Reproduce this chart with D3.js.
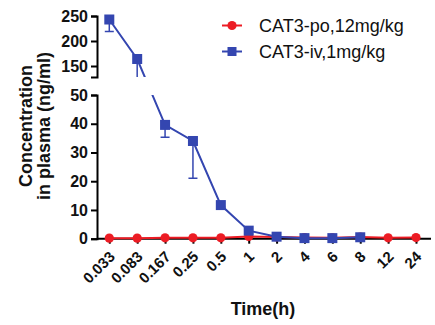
<!DOCTYPE html>
<html>
<head>
<meta charset="utf-8">
<script src="https://cdn.jsdelivr.net/npm/d3@7"></script>
<style>
  html, body { margin: 0; padding: 0; background: #fff; }
  svg { display: block; }
  text { font-family: "Liberation Sans", Arial, Helvetica, sans-serif; }
</style>
</head>
<body>
<div id="chart"></div>
<script>
// ---- data ----
const categories = ["0.033", "0.083", "0.167", "0.25", "0.5", "1", "2", "4", "6", "8", "12", "24"];
const poValues = [0.2, 0.2, 0.3, 0.3, 0.3, 0.8, 0.6, 0.4, 0.3, 0.6, 0.3, 0.4];
const ivValues = [243, 164, 39.6, 34.0, 11.7, 2.8, 0.7, 0.2, 0.2, 0.5, null, null];
const ivErrLow = [219, 120, 35.3, 21.0, 11.0, 2.3, 0.5, 0.1, 0.1, 0.3, null, null];
const yTopTicks = [150, 200, 250];
const yBottomTicks = [0, 10, 20, 30, 40, 50];
const seriesNames = ["CAT3-po,12mg/kg", "CAT3-iv,1mg/kg"];
const xTitle = "Time(h)";
const yTitleLines = ["Concentration", "in plasma (ng/ml)"];

// ---- layout ----
const W = 435, H = 325;
const red = "#ec1c24", blue = "#3446b0";
const axisX = 97, axisEnd = 431;
const topSeg = [77, 16], botSeg = [238.7, 95];

const svg = d3.select("#chart").append("svg").attr("width", W).attr("height", H);

const x = d3.scalePoint().domain(categories).range([109.3, 416]);
const yTop = d3.scaleLinear().domain([128, 250]).range(topSeg);
const yBot = d3.scaleLinear().domain([0, 50]).range(botSeg);
const yAny = v => v > 50 ? yTop(v) : yBot(v);

// clip for broken axis
const defs = svg.append("defs");
const cp = defs.append("clipPath").attr("id", "brk");
cp.append("rect").attr("x", 0).attr("y", 0).attr("width", W).attr("height", topSeg[0]);
cp.append("rect").attr("x", 0).attr("y", botSeg[1]).attr("width", W).attr("height", H - botSeg[1]);

// ---- axes ----
function styleAxis(g) {
  g.selectAll("path, line").attr("stroke", "#000").attr("stroke-width", 2);
  g.selectAll("text").attr("font-size", 16).attr("font-weight", "bold").attr("fill", "#111")
    .attr("font-family", "'Liberation Sans', Arial, sans-serif");
}
const gTop = svg.append("g").attr("transform", `translate(${axisX},0)`)
  .call(d3.axisLeft(yTop).tickValues(yTopTicks).tickSize(6).tickSizeOuter(6).tickPadding(3));
styleAxis(gTop);
const gBot = svg.append("g").attr("transform", `translate(${axisX},0)`)
  .call(d3.axisLeft(yBot).tickValues(yBottomTicks).tickSize(6).tickSizeOuter(6).tickPadding(3));
styleAxis(gBot);

const gX = svg.append("g").attr("transform", `translate(0,${botSeg[0]})`)
  .call(d3.axisBottom(x).tickSize(5).tickSizeOuter(0));
gX.select(".domain").attr("d", `M${axisX},0H${axisEnd}`);
styleAxis(gX);
gX.selectAll(".tick text")
  .attr("font-size", 15)
  .attr("text-anchor", "end")
  .attr("y", 0).attr("dy", 0)
  .attr("transform", "translate(6,19) rotate(-45)");

// ---- titles ----
svg.append("text").attr("x", 263).attr("y", 315).attr("text-anchor", "middle")
  .attr("font-size", 18).attr("font-weight", "bold").attr("fill", "#111").text(xTitle);
const yt = svg.append("g");
yTitleLines.forEach((t, i) => {
  yt.append("text").attr("transform", `translate(${i === 0 ? 31.5 : 50},126) rotate(-90)`)
    .attr("text-anchor", "middle").attr("font-size", 18).attr("font-weight", "bold")
    .attr("fill", "#111").text(t);
});

// ---- series ----
const poData = categories.map((c, i) => ({ c, v: poValues[i] }));
const ivData = categories.map((c, i) => ({ c, v: ivValues[i], lo: ivErrLow[i] }));
const line = d3.line().defined(d => d.v != null).x(d => x(d.c)).y(d => yAny(d.v));

// red (po)
svg.append("path").datum(poData).attr("d", line).attr("fill", "none")
  .attr("stroke", red).attr("stroke-width", 2);
svg.append("g").selectAll("circle").data(poData).join("circle")
  .attr("cx", d => x(d.c)).attr("cy", d => yAny(d.v)).attr("r", 4.6).attr("fill", red);

// blue (iv)
const gIv = svg.append("g").attr("clip-path", "url(#brk)");
gIv.append("path").datum(ivData).attr("d", line).attr("fill", "none")
  .attr("stroke", blue).attr("stroke-width", 2);
const eb = gIv.append("g").selectAll("g").data(ivData.filter(d => d.v != null)).join("g");
eb.append("line").attr("x1", d => x(d.c)).attr("x2", d => x(d.c))
  .attr("y1", d => yAny(d.v)).attr("y2", d => yAny(d.lo)).attr("stroke", blue).attr("stroke-width", 1.5);
eb.append("line").attr("x1", d => x(d.c) - 4.5).attr("x2", d => x(d.c) + 4.5)
  .attr("y1", d => yAny(d.lo)).attr("y2", d => yAny(d.lo)).attr("stroke", blue).attr("stroke-width", 1.5);
svg.append("g").selectAll("rect").data(ivData.filter(d => d.v != null)).join("rect")
  .attr("x", d => x(d.c) - 5).attr("y", d => yAny(d.v) - 5).attr("width", 10).attr("height", 10)
  .attr("fill", blue);

// ---- legend ----
const leg = svg.append("g");
[[red, 25.5, "circle"], [blue, 51.5, "square"]].forEach(([col, y, shp], i) => {
  leg.append("line").attr("x1", 222).attr("x2", 242).attr("y1", y).attr("y2", y)
    .attr("stroke", col).attr("stroke-width", 2);
  if (shp === "circle") leg.append("circle").attr("cx", 232).attr("cy", y).attr("r", 4.6).attr("fill", col);
  else leg.append("rect").attr("x", 227.5).attr("y", y - 4.5).attr("width", 9).attr("height", 9).attr("fill", col);
  leg.append("text").attr("x", 259).attr("y", y + 6.5).attr("font-size", 18).attr("fill", "#111")
    .text(seriesNames[i]);
});
</script>
</body>
</html>
